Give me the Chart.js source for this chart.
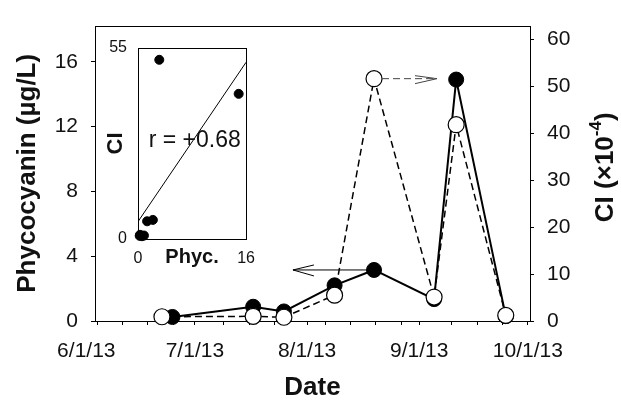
<!DOCTYPE html>
<html>
<head>
<meta charset="utf-8">
<script src="https://cdn.jsdelivr.net/npm/chart.js@4.4.1/dist/chart.umd.min.js"></script>
<style>
  html, body { margin: 0; padding: 0; background: #fff; }
  #wrap { position: relative; width: 621px; height: 403px; }
  #mainChart { position: absolute; left: 0; top: 0; }
  #insetChart { position: absolute; left: 95px; top: 20px; }
</style>
</head>
<body>
<div id="wrap">
  <canvas id="mainChart" width="621" height="403"></canvas>
  <canvas id="insetChart" width="170" height="250"></canvas>
</div>
<script>
// sampling days, counted from 6/1/13
const phycDays = [23.8, 46.1, 54.6, 68.6, 79.5, 96.1, 102.2, 115.9];
const phycValues = [0.25, 0.88, 0.59, 2.2, 3.15, 1.35, 14.9, 0.3];   // ug/L
const ciDays = [20.9, 46.1, 54.6, 68.6, 79.5, 96.1, 102.2, 115.9];
const ciValues = [0.9, 1.0, 0.8, 5.5, 51.6, 5.1, 41.8, 1.2];          // x1e-4

const monthTicks = [0, 30, 61, 92, 122];
const monthLabels = ['6/1/13', '7/1/13', '8/1/13', '9/1/13', '10/1/13'];
const weekTicks = [3, 10, 17, 24, 38, 45, 52, 66, 73, 80, 87, 101, 108, 115];
const phycTicks = [0, 4, 8, 12, 16];
const ciTicks = [0, 10, 20, 30, 40, 50, 60];

// inset: linear fit
const fitX = [0, 16];
const fitY = [5.0, 50.9];

// arrows pointing at the axis each series belongs to (day values)
const leftArrow = { fromDay: 79.5, toDay: 57.1, value: 3.15 };
const rightArrow = { fromDay: 79.5, toDay: 96.9, value: 51.6 };

const FONT = '"Liberation Sans", Arial, sans-serif';
Chart.defaults.font.family = FONT;
Chart.defaults.color = '#111';

const X_MIN = 2.4, X_MAX = 122.6;

const framePlugin = {
    id: 'frame',
    beforeDatasetsDraw(chart) {
        const a = chart.chartArea;
        const ctx = chart.ctx;
        ctx.save();
        ctx.strokeStyle = '#000';
        ctx.lineWidth = 1;
        ctx.strokeRect(Math.round(a.left) + 0.5, Math.round(a.top) + 0.5,
            Math.round(a.right - a.left), Math.round(a.bottom - a.top));
        ctx.restore();
    }
};

const arrowPlugin = {
    id: 'arrows',
    afterDatasetsDraw(chart) {
        const ctx = chart.ctx;
        const x = chart.scales.x, yL = chart.scales.yL, yR = chart.scales.yR;
        ctx.save();
        ctx.strokeStyle = '#000';
        ctx.lineWidth = 1;
        // left arrow (solid)
        let y = yL.getPixelForValue(leftArrow.value);
        let x0 = x.getPixelForValue(leftArrow.fromDay), x1 = x.getPixelForValue(leftArrow.toDay);
        ctx.beginPath();
        ctx.moveTo(x0, y); ctx.lineTo(x1, y);
        ctx.moveTo(x1 + 21, y - 5); ctx.lineTo(x1, y); ctx.lineTo(x1 + 21, y + 6);
        ctx.stroke();
        // right arrow (dashed)
        y = yR.getPixelForValue(rightArrow.value);
        x0 = x.getPixelForValue(rightArrow.fromDay) + 8;
        x1 = x.getPixelForValue(rightArrow.toDay);
        ctx.strokeStyle = '#444';
        ctx.setLineDash([7, 4]);
        ctx.beginPath();
        ctx.moveTo(x0, y); ctx.lineTo(x1, y);
        ctx.stroke();
        ctx.setLineDash([]);
        ctx.beginPath();
        ctx.moveTo(x1 - 22, y - 3); ctx.lineTo(x1, y); ctx.lineTo(x1 - 22, y + 5);
        ctx.stroke();
        ctx.restore();
    }
};

const rightTitlePlugin = {
    id: 'rightTitle',
    afterDraw(chart) {
        const ctx = chart.ctx;
        const a = chart.chartArea;
        const main = 'CI (\u00d710', sup = '-4', end = ')';
        ctx.save();
        ctx.translate(606, (a.top + a.bottom) / 2 - 6);
        ctx.rotate(-Math.PI / 2);
        ctx.fillStyle = '#111';
        ctx.textBaseline = 'middle';
        ctx.font = 'bold 26px ' + FONT;
        const w1 = ctx.measureText(main).width, w3 = ctx.measureText(end).width;
        ctx.font = 'bold 17px ' + FONT;
        const w2 = ctx.measureText(sup).width;
        let px = -(w1 + w2 + w3) / 2;
        ctx.font = 'bold 26px ' + FONT;
        ctx.fillText(main, px, 0);
        px += w1;
        ctx.font = 'bold 17px ' + FONT;
        ctx.fillText(sup, px, -10);
        px += w2;
        ctx.font = 'bold 26px ' + FONT;
        ctx.fillText(end, px, 0);
        ctx.restore();
    }
};

new Chart(document.getElementById('mainChart'), {
    type: 'line',
    data: {
        datasets: [{
            label: 'Phycocyanin',
            data: phycDays.map((d, i) => ({ x: d, y: phycValues[i] })),
            yAxisID: 'yL',
            borderColor: '#000',
            borderWidth: 2,
            pointRadius: 7.5,
            pointBackgroundColor: '#000',
            pointBorderColor: '#000',
            pointBorderWidth: 1,
            clip: false,
            order: 2
        }, {
            label: 'CI',
            data: ciDays.map((d, i) => ({ x: d, y: ciValues[i] })),
            yAxisID: 'yR',
            borderColor: '#000',
            borderWidth: 1.5,
            borderDash: [7, 4],
            pointRadius: 8,
            pointBackgroundColor: '#fff',
            pointBorderColor: '#000',
            pointBorderWidth: 1.2,
            clip: false,
            order: 1
        }]
    },
    options: {
        responsive: false,
        animation: false,
        layout: { padding: { top: 16, left: 0, right: 0, bottom: 0 } },
        plugins: { legend: { display: false }, tooltip: { enabled: false } },
        scales: {
            x: {
                type: 'linear',
                min: X_MIN,
                max: X_MAX,
                afterBuildTicks: s => {
                    s.ticks = monthTicks.concat(weekTicks).sort((a, b) => a - b).map(v => ({ value: v }));
                },
                ticks: {
                    autoSkip: false,
                    maxRotation: 0,
                    padding: 14,
                    font: { size: 21 },
                    callback: v => {
                        const k = monthTicks.indexOf(v);
                        return k >= 0 ? monthLabels[k] : '';
                    }
                },
                grid: {
                    drawOnChartArea: false,
                    tickLength: 4,
                    color: c => (c.tick && c.tick.value < X_MIN) ? 'rgba(0,0,0,0)' : '#000'
                },
                border: { display: false },
                title: { display: true, text: 'Date', font: { size: 26, weight: 'bold' }, padding: { top: 0, bottom: 0 } },
                afterFit: s => { s.height = 82; }
            },
            yL: {
                position: 'left',
                min: 0,
                max: 18.23,
                afterBuildTicks: s => { s.ticks = phycTicks.map(v => ({ value: v })); },
                ticks: { padding: 13, font: { size: 21 } },
                grid: { drawOnChartArea: false, tickLength: 4, color: '#000' },
                border: { display: false },
                title: { display: true, text: 'Phycocyanin (\u00b5g/L)', font: { size: 26, weight: 'bold' }, padding: { top: 12 } },
                afterFit: s => { s.width = 95; }
            },
            yR: {
                position: 'right',
                min: 0,
                max: 62.9,
                afterBuildTicks: s => { s.ticks = ciTicks.map(v => ({ value: v })); },
                ticks: { padding: 13, font: { size: 21 } },
                grid: { drawOnChartArea: false, tickLength: 4, color: '#000' },
                border: { display: false },
                afterFit: s => { s.width = 91; }
            }
        }
    },
    plugins: [framePlugin, arrowPlugin, rightTitlePlugin]
});

const rLabelPlugin = {
    id: 'rLabel',
    afterDraw(chart) {
        const ctx = chart.ctx;
        ctx.save();
        ctx.fillStyle = '#111';
        ctx.font = '23px ' + FONT;
        ctx.textAlign = 'center';
        ctx.textBaseline = 'middle';
        ctx.fillText('r = +0.68', chart.scales.x.getPixelForValue(8.4), chart.scales.y.getPixelForValue(28.2));
        ctx.restore();
    }
};

new Chart(document.getElementById('insetChart'), {
    type: 'scatter',
    data: {
        datasets: [{
            data: phycValues.map((p, i) => ({ x: p, y: ciValues[i] })),
            pointRadius: 4.5,
            pointBackgroundColor: '#000',
            pointBorderColor: '#000',
            clip: false
        }, {
            type: 'line',
            data: fitX.map((v, i) => ({ x: v, y: fitY[i] })),
            borderColor: '#000',
            borderWidth: 1,
            pointRadius: 0
        }]
    },
    options: {
        responsive: false,
        animation: false,
        layout: { padding: { top: 28, right: 18, left: 0, bottom: 0 } },
        plugins: { legend: { display: false }, tooltip: { enabled: false } },
        scales: {
            x: {
                type: 'linear',
                min: 0,
                max: 16,
                afterBuildTicks: s => { s.ticks = [{ value: 0 }, { value: 16 }]; },
                ticks: { padding: 10, maxRotation: 0, font: { size: 16 } },
                grid: { display: false, drawTicks: false },
                border: { display: false },
                title: { display: true, text: 'Phyc.', font: { size: 20, weight: 'bold' }, padding: { top: 0, bottom: 1 } },
                afterFit: s => { s.height = 31; }
            },
            y: {
                min: 0,
                max: 55,
                afterBuildTicks: s => { s.ticks = [{ value: 0 }, { value: 55 }]; },
                ticks: { padding: 11, font: { size: 16 } },
                grid: { display: false, drawTicks: false },
                border: { display: false },
                title: { display: true, text: 'CI', font: { size: 22, weight: 'bold' }, padding: { top: 8 } },
                afterFit: s => { s.width = 43; }
            }
        }
    },
    plugins: [framePlugin, rLabelPlugin]
});
</script>
</body>
</html>
